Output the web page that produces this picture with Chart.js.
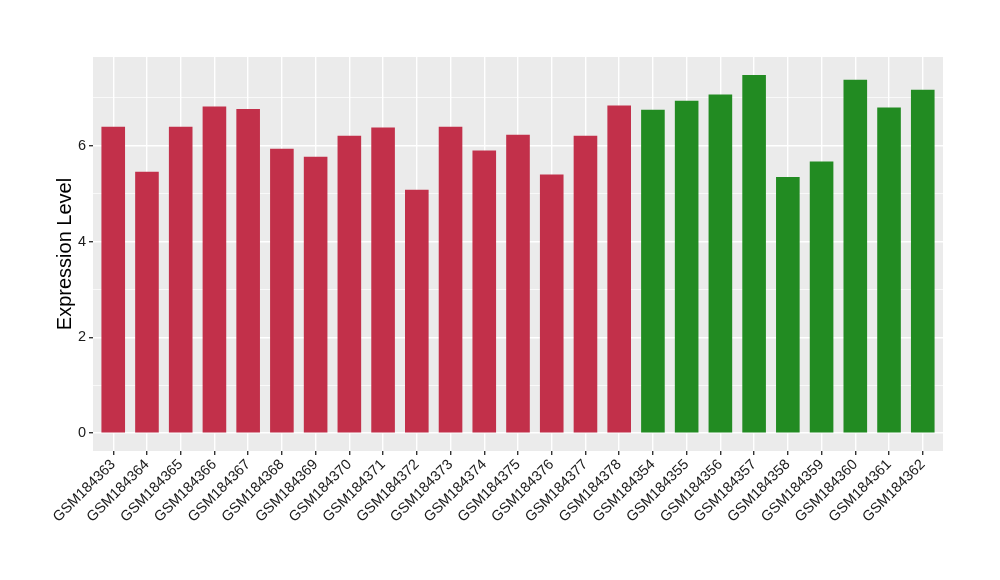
<!DOCTYPE html>
<html>
<head>
<meta charset="utf-8">
<script src="https://cdn.jsdelivr.net/npm/chart.js@4.4.0/dist/chart.umd.min.js"></script>
<style>
  body { margin: 0; background: #fff; }
  #wrap { width: 1000px; height: 580px; }
</style>
</head>
<body>
<div id="wrap"><canvas id="chart-expr"></canvas></div>
<script>
// samples
var samples = [
    "GSM184363", "GSM184364", "GSM184365", "GSM184366", "GSM184367",
    "GSM184368", "GSM184369", "GSM184370", "GSM184371", "GSM184372",
    "GSM184373", "GSM184374", "GSM184375", "GSM184376", "GSM184377",
    "GSM184378", "GSM184354", "GSM184355", "GSM184356", "GSM184357",
    "GSM184358", "GSM184359", "GSM184360", "GSM184361", "GSM184362"
];
var expression = [
    6.40, 5.46, 6.40, 6.82, 6.77, 5.94, 5.77, 6.21, 6.38, 5.08,
    6.40, 5.90, 6.23, 5.40, 6.21, 6.84, 6.75, 6.94, 7.07, 7.48,
    5.35, 5.67, 7.38, 6.80, 7.17
];
// group of each sample: 0 = first group (red), 1 = second group (green)
var groups = [
    0, 0, 0, 0, 0, 0, 0, 0, 0, 0,
    0, 0, 0, 0, 0, 0, 1, 1, 1, 1,
    1, 1, 1, 1, 1
];
var groupColors = ["#C2304A", "#228B22"];
var yTicks = [0, 1, 2, 3, 4, 5, 6, 7];

// grey panel like ggplot
var panelBg = {
    id: 'panelBg',
    beforeDraw: function(chart) {
        var a = chart.chartArea, c = chart.ctx;
        c.save();
        c.fillStyle = '#EBEBEB';
        c.fillRect(a.left, a.top, a.right - a.left, a.bottom - a.top);
        c.restore();
    }
};

var txt = '#1a1a1a';

var config = {
    type: 'bar',
    data: {
        labels: samples,
        datasets: [{
            data: expression,
            backgroundColor: groups.map(function(g) { return groupColors[g]; }),
            borderWidth: 0,
            barPercentage: 0.7,
            categoryPercentage: 1.0
        }]
    },
    options: {
        responsive: true,
        maintainAspectRatio: false,
        animation: false,
        layout: { padding: { left: 0, top: 57, right: 57, bottom: 0 } },
        plugins: {
            legend: { display: false },
            tooltip: { enabled: false }
        },
        scales: {
            x: {
                offset: false,
                // ggplot-like discrete expansion (0.6 of a category each side)
                afterBuildTicks: function(s) {
                    s.ticks = samples.map(function(l, i) { return { value: i }; });
                    s._startValue = -0.6;
                    s._valueRange = samples.length - 1 + 1.2;
                },
                grid: {
                    offset: false,
                    color: '#FFFFFF',
                    lineWidth: 1.4,
                    tickColor: '#333333',
                    tickLength: 4,
                    drawTicks: true
                },
                border: { display: false },
                ticks: {
                    color: txt,
                    font: { family: 'Liberation Sans', size: 14.5 },
                    minRotation: 45,
                    maxRotation: 45,
                    padding: 1,
                    autoSkip: false,
                    callback: function(v, i) { return samples[i]; }
                },
                afterFit: function(s) { s.height = 129; }
            },
            y: {
                min: -0.374,
                max: 7.854,
                afterBuildTicks: function(s) {
                    s.ticks = yTicks.map(function(v) { return { value: v }; });
                },
                grid: {
                    color: '#FFFFFF',
                    lineWidth: function(ctx) {
                        return ctx.tick && ctx.tick.value % 2 === 0 ? 1.4 : 0.7;
                    },
                    tickColor: function(ctx) {
                        return ctx.tick && ctx.tick.value % 2 === 0 ? '#333333' : 'rgba(0,0,0,0)';
                    },
                    tickLength: 4
                },
                border: { display: false },
                ticks: {
                    color: txt,
                    font: { family: 'Liberation Sans', size: 14.5 },
                    padding: 3,
                    callback: function(v) { return v % 2 === 0 ? String(v) : ''; }
                },
                title: {
                    display: true,
                    text: 'Expression Level',
                    color: '#000000',
                    font: { family: 'Liberation Sans', size: 20 },
                    padding: { top: 53, bottom: 0 }
                },
                afterFit: function(s) { s.width = 93; }
            }
        }
    },
    plugins: [panelBg]
};

window.onload = function() {
    var ctx = document.getElementById("chart-expr").getContext("2d");
    window.exprChart = new Chart(ctx, config);
};
</script>
</body>
</html>
